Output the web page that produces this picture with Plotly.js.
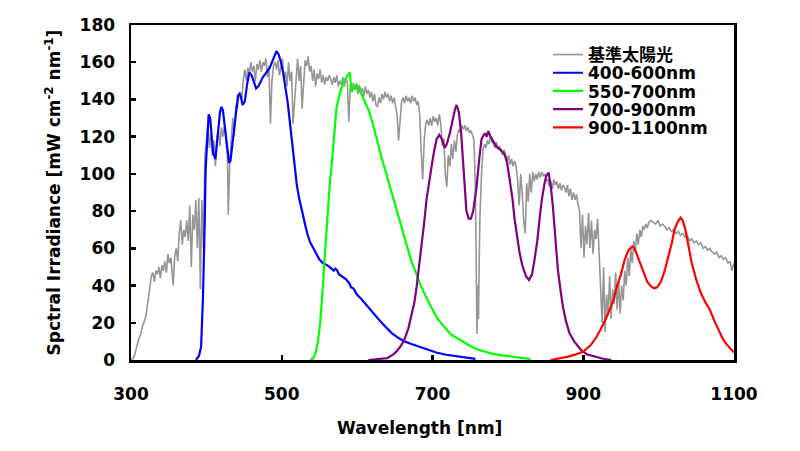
<!DOCTYPE html>
<html>
<head>
<meta charset="utf-8">
<script src="https://cdn.plot.ly/plotly-3.0.1.min.js"></script>
<style>html,body{margin:0;padding:0;background:#fff;}#chart{width:800px;height:451px;}</style>
</head>
<body>
<div id="chart"></div>
<script>
// Reference solar spectrum (基準太陽光)
const sunWl = [300,303,305,308,310,313,315,318,320,322,325,327,329,331,333,335,337,339,341,343,345,347,349,351,353,356,358,360,362,364,366,368,370,372,374,376,378,380,382,384,386,388,390,392,394,396,398,400,402,404,406,408,410,412,414,416,418,420,422,424,426,428,429,431,433,435,437,439,441,443,445,447,449,451,453,455,457,459,461,463,465,467,469,471,473,475,477,479,481,483,485,487,489,491,493,495,497,499,501,503,505,507,509,511,513,515,517,519,521,523,525,527,529,531,533,535,537,539,541,543,545,547,549,551,553,555,557,559,561,563,565,567,569,571,573,575,577,579,581,583,585,587,589,591,593,595,597,599,601,603,605,607,609,611,613,615,617,619,621,623,625,627,629,631,633,635,637,639,641,643,645,647,649,651,653,655,657,659,661,663,665,667,669,671,673,675,677,679,681,683,685,687,689,691,693,695,697,699,701,703,705,707,709,711,713,715,717,719,721,723,725,727,729,731,733,735,737,739,741,743,745,747,749,751,753,755,757,758,759,760,761,762,763,765,767,769,771,773,775,777,779,781,783,785,787,789,791,793,795,797,799,801,803,805,807,809,811,813,815,817,819,821,823,825,827,829,831,833,835,837,839,841,843,845,847,849,851,853,855,857,859,861,863,865,867,869,871,873,875,877,879,881,883,885,887,889,891,893,895,897,899,901,903,905,907,909,911,913,915,917,919,921,923,925,927,929,931,933,935,937,939,941,943,945,947,949,951,953,955,957,959,961,963,965,967,969,971,973,975,977,979,981,983,985,987,990,993,996,999,1002,1005,1008,1011,1014,1017,1020,1023,1026,1029,1032,1035,1038,1041,1044,1047,1050,1053,1056,1059,1062,1065,1068,1071,1074,1077,1080,1083,1086,1089,1092,1095,1097,1100];
const sunVal = [0,1,3,8,11,14,18,21,24,30,38,45,47,42,48,46,50,44,51,48,53,47,57,52,55,40,56,60,53,68,75,62,70,66,75,64,83,50,78,70,86,60,87,38,86,60,110,120,126,114,122,110,118,104,120,123,115,125,120,126,118,110,78,105,118,130,120,137,135,142,144,140,151,156,150,157,154,160,155,158,150,159,156,161,155,160,158,162,152,158,127,150,158,160,156,161,153,158,162,150,155,147,160,150,155,127,140,155,162,150,158,135,150,161,158,163,155,158,150,156,147,154,151,156,149,153,148,152,150,153,151,148,152,149,153,147,150,148,152,147,151,149,128,148,144,149,145,147,143,148,144,146,142,147,143,145,141,144,139,143,137,136,141,138,143,140,144,141,143,139,142,138,141,136,132,118,130,139,141,138,142,139,141,138,142,139,141,137,139,132,112,97,118,127,129,126,130,126,131,128,130,126,132,127,115,119,100,93,110,104,116,108,118,112,121,124,122,126,124,126,123,125,122,123,121,118,90,30,14,40,22,55,78,100,113,116,114,118,116,120,117,116,114,117,113,115,112,110,113,109,107,110,105,108,104,107,104,96,83,100,90,75,68,95,85,100,90,101,96,100,97,101,98,101,99,100,96,97,93,96,92,97,94,96,92,95,91,94,93,90,94,88,92,86,90,86,89,84,80,60,78,55,72,62,79,60,75,57,70,65,76,58,40,20,50,15,35,24,45,22,38,30,47,27,42,25,40,32,48,40,55,45,60,52,64,58,68,62,70,66,72,70,73,71,74,75,74,73,75,72,73,72,70,71,69,70,68,69,67,68,66,67,64,65,63,64,62,63,60,61,59,60,58,57,58,55,56,54,55,52,53,48,52,50];

// 400-600nm filter
const blueWl = [386,390,393,395.5,397.7,399,401,403,405,407,409,412,415,418,420,422,424,426,428,430,432,435,438,440,442,444,446,448,451,454,457,460,463,466,469,472,475,478,481,484,487,490,493,496,499,502,505,508,511,514,517,520,523,526,529,532,535,538,542,546,550,555,560,565,569,571,573,576,580,585,590,592,595,600,605,610,615,620,627,635,640,646,655,663,672,683,694,705,718,730,745,757];
const blueVal = [0,2,7,34,72,102,117,132,130,118,111,108,120,133,136,134,127,120,110,106,107,118,126,136,142,143,141,137,139,148,154.5,153,149,146,147,150,152,153.6,155,157,160,163,166,164,160,154,147,138,127,116,104,94,87,81,76,71,66.5,63,60,57,54,52,51,49.5,48,49,48.5,46,45,43.5,41,39,38.5,35,33,30.5,28,25.5,22.6,19,17,14.4,11.8,10,8.6,7,5.4,4,2.8,2,1.2,0.6];

// 550-700nm filter
const greenWl = [538,542,545,548,551,553,555,557,559.5,562,564,566,569,572.8,577,581.6,586,590.5,592.5,595,599,603,607,611,615,620,625,628,633,638,643.5,650,655,661,667,672,678,683,690,694,700,705,710,715,720,725,732,740,750,760,770,780,790,800,810,820,830];
const greenVal = [0,1,4,10,20,29,42,56,72,87,96,104,120,136,143,149,152,154.5,144,146,148,145,142,138,134.5,128,120,115,108,101,93.4,84,77,68.3,60,53,47,41.3,35,32,27,23.3,20.5,18,15.5,13.5,12,10,7.5,5.6,4.3,3.3,2.6,2,1.4,1,0.5];

// 700-900nm filter
const purpleWl = [615,630,640,648,652,658,663.4,668,672,676,679,682,685.5,689,692,695,698.8,702,705.4,709,712,716.4,719,723,727,730,732,735,738,740,742,745,748,751,754,758.5,762,765,768,770,772,774,777,780.5,785,790,795.6,799,802,806,809,812,815.5,819,824,828,832,835.4,839,842,845,848.7,851,854,857,859.7,863,866.3,870,873,877,881.8,888,897,905,915,925,937];
const purpleVal = [0,0.5,1,3,4.5,7.5,11.7,17,23.3,31,39.5,49,61,74,86,95,104,112,118.6,121,119,114,116,122,130,135,137,133,122,109.6,95,80,76,76,80,93,108,118.6,121,121.5,120,123,120,117.7,114.5,113,110.5,106,98.8,87,75.5,66,57.6,51,45,43,46,54,64,75.5,86,95,99,100.6,93,82.6,65,48.5,37,28.7,21,14.4,10,5.4,3,1.8,0.8,0];

// 900-1100nm filter
const redWl = [857,870,880,890,900,910,918,925,932,940,945,950,955,960,965,968,972,976,980,985,990,994,998,1003,1008,1012,1017,1021,1025,1029,1032,1035,1039,1044,1050,1056,1062,1068,1074,1080,1085,1090,1096,1100];
const redVal = [0,0.8,1.8,3,4.5,8,12.6,18,24,32,40,46,54,59,61,60,56,51,47,42,39.5,38.5,39,42,48,54,62,70,74,76.5,75,71,62,52,43,36,31,27,21,16,11.5,8.5,5.5,4];

const seriesNames = ['基準太陽光','400-600nm','550-700nm','700-900nm','900-1100nm'];
const xTicks = [300,500,700,900,1100];
const yTicks = [0,20,40,60,80,100,120,140,160,180];

const FONT = '"DejaVu Sans", "Noto Sans CJK JP", sans-serif';
const data = [
  {x: sunWl, y: sunVal, name: seriesNames[0], mode: 'lines', line: {color: '#969696', width: 1.6}, legend: 'legend'},
  {x: blueWl, y: blueVal, name: seriesNames[1], mode: 'lines', line: {color: '#0000ff', width: 2.2}, legend: 'legend2'},
  {x: greenWl, y: greenVal, name: seriesNames[2], mode: 'lines', line: {color: '#00ff00', width: 2.2}, legend: 'legend3'},
  {x: purpleWl, y: purpleVal, name: seriesNames[3], mode: 'lines', line: {color: '#800080', width: 2.2}, legend: 'legend4'},
  {x: redWl, y: redVal, name: seriesNames[4], mode: 'lines', line: {color: '#ff0000', width: 2.2}, legend: 'legend5'}
];

function leg(ypx) {
  return {x: (548 - 131) / 603, y: (360 - ypx) / 335, xanchor: 'left', yanchor: 'middle',
          bgcolor: 'rgba(0,0,0,0)', borderwidth: 0,
          font: {family: FONT, size: 17, weight: 'bold', color: '#000'}};
}

const layout = {
  width: 800, height: 451,
  margin: {l: 131, r: 66, t: 25, b: 91},
  paper_bgcolor: '#fff', plot_bgcolor: '#fff',
  font: {family: FONT, size: 17, weight: 'bold', color: '#000'},
  xaxis: {
    range: [300, 1100], tickvals: xTicks, ticktext: xTicks.map(String),
    showgrid: false, zeroline: false, showline: true, mirror: true,
    linecolor: '#000', linewidth: 2.5, ticks: 'inside', ticklen: 5, tickwidth: 2.5, tickcolor: '#000',
    ticklabelstandoff: 17,
    tickfont: {family: FONT, size: 17, weight: 'bold', color: '#000'}
  },
  yaxis: {
    range: [0, 180], tickvals: yTicks, ticktext: yTicks.map(String),
    showgrid: false, zeroline: false, showline: true, mirror: true,
    linecolor: '#000', linewidth: 2.5, ticks: 'inside', ticklen: 5, tickwidth: 2.5, tickcolor: '#000',
    ticklabelstandoff: 10,
    tickfont: {family: FONT, size: 17, weight: 'bold', color: '#000'},
    title: {text: 'Spctral Irradiance [mW cm<sup>-2</sup> nm<sup>-1</sup>]', standoff: 15,
            font: {family: FONT, size: 17, weight: 'bold', color: '#000'}}
  },
  annotations: [
    {text: 'Wavelength [nm]', xref: 'paper', yref: 'paper', x: (419 - 131) / 603, y: (360 - 428) / 335,
     xanchor: 'center', yanchor: 'middle', showarrow: false,
     font: {family: FONT, size: 17, weight: 'bold', color: '#000'}}
  ],
  showlegend: true,
  legend: leg(55), legend2: leg(73.2), legend3: leg(91.4), legend4: leg(109.6), legend5: leg(127.8)
};

Plotly.newPlot('chart', data, layout, {displayModeBar: false, staticPlot: true});
</script>
</body>
</html>
